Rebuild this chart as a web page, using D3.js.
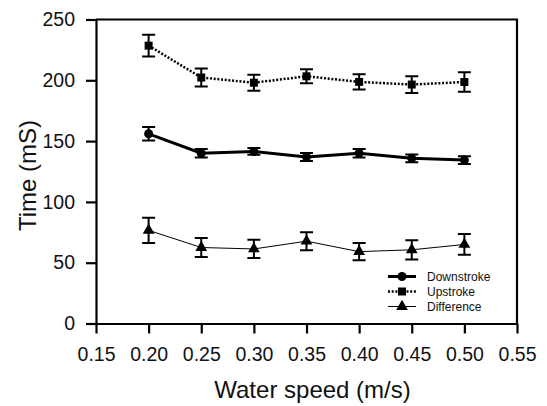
<!DOCTYPE html>
<html>
<head>
<meta charset="utf-8">
<script src="https://cdn.jsdelivr.net/npm/d3@7"></script>
<style>
    body { margin: 0; background: #fff; }
    text { font-family: "Liberation Sans", Arial, sans-serif; fill: #111; }
</style>
</head>
<body>
<div id="chart"></div>
<script>
// water speed (m/s)
let speeds = [0.20, 0.25, 0.30, 0.35, 0.40, 0.45, 0.50];

// mean time (mS) and error bar half-widths
let downstroke = [156, 140, 141.5, 137, 140, 135.8, 134.4];
let downErr = [5.6, 3.5, 2.8, 3.3, 3.5, 3.2, 3.2];

let upstroke = [228.5, 202.3, 198, 203.3, 198.7, 196.5, 198.6];
let upErr = [9, 7.5, 6.5, 5.8, 6.2, 6.9, 8];

let difference = [76.6, 62.5, 61.3, 67.7, 59.1, 60.6, 65];
let diffErr = [10.3, 7.9, 7.5, 7.4, 7, 7.9, 8.5];

let xTicks = [0.15, 0.20, 0.25, 0.30, 0.35, 0.40, 0.45, 0.50, 0.55];
let yTicks = [0, 50, 100, 150, 200, 250];

let seriesNames = ["Downstroke", "Upstroke", "Difference"];

// set the dimensions and margins of the graph
let margin = { top: 19.5, right: 30, bottom: 82.5, left: 96 };
let width = 547 - margin.left - margin.right;
let height = 406 - margin.top - margin.bottom;

let svg = d3.select("#chart").append("svg")
    .attr("width", 547)
    .attr("height", 406)
    .append("g")
    .attr("transform", "translate(" + margin.left + "," + margin.top + ")");

let x = d3.scaleLinear().domain([0.15, 0.55]).range([0, width]);
let y = d3.scaleLinear().domain([0, 250]).range([height, 0]);

// series config (styles only)
let series = [
    { name: seriesNames[0], vals: downstroke, err: downErr, width: 3, dash: null, marker: "circle" },
    { name: seriesNames[1], vals: upstroke, err: upErr, width: 2.5, dash: "2,1.7", marker: "square" },
    { name: seriesNames[2], vals: difference, err: diffErr, width: 1, dash: null, marker: "triangle" }
];

let symbolFor = {
    circle: d3.symbol().type(d3.symbolCircle).size(64),
    square: d3.symbol().type(d3.symbolSquare).size(64),
    triangle: d3.symbol().type(d3.symbolTriangle).size(60)
};

// axes
let xAxis = svg.append("g")
    .attr("class", "x-axis axis")
    .attr("transform", "translate(0," + height + ")")
    .call(d3.axisBottom(x).tickValues(xTicks).tickFormat(d3.format(".2f")).tickSize(10).tickPadding(14).tickSizeOuter(0));

let yAxis = svg.append("g")
    .attr("class", "y-axis axis")
    .call(d3.axisLeft(y).tickValues(yTicks).tickSize(10).tickPadding(11).tickSizeOuter(0));

svg.selectAll(".axis path, .axis line")
    .attr("stroke", "#000")
    .attr("stroke-width", 2.2);
svg.selectAll(".axis text")
    .style("font-size", "19.5px")
    .attr("fill", "#111");

// top and right frame
svg.append("path")
    .attr("d", "M0,0H" + width + "V" + height)
    .attr("fill", "none")
    .attr("stroke", "#000")
    .attr("stroke-width", 2.2);

// axis titles
svg.append("text")
    .attr("x", width / 2 + 6)
    .attr("y", height + 74)
    .attr("text-anchor", "middle")
    .style("font-size", "24px")
    .text("Water speed (m/s)");

svg.append("text")
    .attr("transform", "translate(" + (36 - margin.left) + "," + (height / 2 + 4) + ") rotate(-90)")
    .attr("text-anchor", "middle")
    .style("font-size", "24px")
    .text("Time (mS)");

// lines, error bars, markers
series.forEach(function (s) {
    let pts = speeds.map(function (sp, i) { return { x: sp, y: s.vals[i], e: s.err[i] }; });

    svg.append("path")
        .datum(pts)
        .attr("fill", "none")
        .attr("stroke", "#000")
        .attr("stroke-width", s.width)
        .attr("stroke-dasharray", s.dash)
        .attr("d", d3.line().x(function (d) { return x(d.x); }).y(function (d) { return y(d.y); }));

    let eb = svg.append("g").selectAll("g")
        .data(pts)
        .join("g");

    eb.append("path")
        .attr("fill", "none")
        .attr("stroke", "#000")
        .attr("stroke-width", 2)
        .attr("d", function (d) {
            let cx = x(d.x), t = y(d.y + d.e), b = y(d.y - d.e);
            return "M" + (cx - 6.5) + "," + t + "H" + (cx + 6.5) +
                "M" + cx + "," + t + "V" + b +
                "M" + (cx - 6.5) + "," + b + "H" + (cx + 6.5);
        });

    eb.append("path")
        .attr("transform", function (d) { return "translate(" + x(d.x) + "," + y(d.y) + ")"; })
        .attr("d", symbolFor[s.marker])
        .attr("fill", "#000");
});

// legend
let legend = svg.append("g")
    .attr("transform", "translate(" + (388 - margin.left) + "," + (276.5 - margin.top) + ")");

series.forEach(function (s, i) {
    let row = legend.append("g").attr("transform", "translate(0," + (i * 15) + ")");
    row.append("line")
        .attr("x1", 0).attr("x2", 28)
        .attr("stroke", "#000")
        .attr("stroke-width", s.marker === "triangle" ? 1 : s.width)
        .attr("stroke-dasharray", s.dash);
    row.append("path")
        .attr("transform", "translate(14,0)")
        .attr("d", symbolFor[s.marker])
        .attr("fill", "#000");
    row.append("text")
        .attr("x", 39)
        .attr("dy", "0.35em")
        .style("font-size", "12px")
        .text(s.name);
});
</script>
</body>
</html>
